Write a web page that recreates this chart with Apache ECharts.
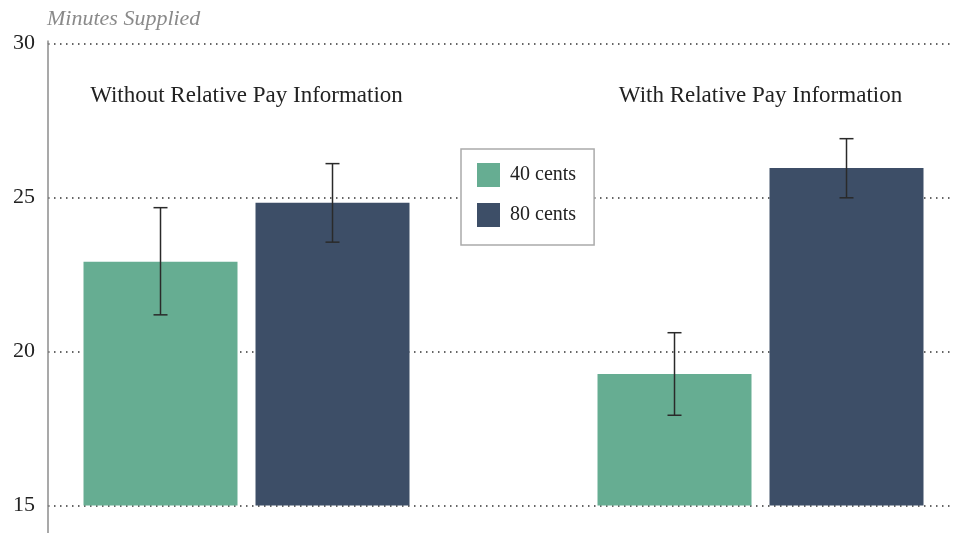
<!DOCTYPE html>
<html><head><meta charset="utf-8">
<script src="https://cdn.jsdelivr.net/npm/echarts@6/dist/echarts.min.js"></script>
<style>html,body{margin:0;padding:0;background:#fff}#c{width:956px;height:533px}</style>
</head><body><div id="c"></div>
<script>
var groups = ['Without Relative Pay Information', 'With Relative Pay Information'];
var seriesNames = ['40 cents', '80 cents'];
var values40 = [22.91, 19.27];
var values80 = [24.83, 25.96];
var err40 = [[21.19, 24.67], [17.93, 20.61]];
var err80 = [[23.55, 26.10], [24.99, 26.91]];
var yTicks = [15, 20, 25, 30];

var FONT = 'Liberation Serif';
var GREEN = '#66ad92', NAVY = '#3d4e67';
var BAR_W = 154, BAR_GAP = 18;
// horizontal placement of the two groups inside the plot (group index -> axis)
var X_MIN = -0.3862, X_MAX = 1.3745;
var chart = echarts.init(document.getElementById('c'));

function pairs(vals) { return vals.map(function (v, i) { return [i, v]; }); }

function errSeries(name, errs, sign) {
  return {
    type: 'custom', name: name + ' err', xAxisIndex: 1, yAxisIndex: 1, z: 5, silent: true,
    data: errs.map(function (e, i) { return [i, e[0], e[1]]; }),
    encode: { x: 0, y: [1, 2] },
    renderItem: function (params, api) {
      var off = sign * (BAR_W + BAR_GAP) / 2;
      var lo = api.coord([api.value(0), api.value(1)]);
      var hi = api.coord([api.value(0), api.value(2)]);
      var x = lo[0] + off, cap = 7;
      var st = { stroke: '#2a2a2a', lineWidth: 1.5 };
      return { type: 'group', children: [
        { type: 'line', shape: { x1: x, y1: lo[1], x2: x, y2: hi[1] }, style: st },
        { type: 'line', shape: { x1: x - cap, y1: lo[1], x2: x + cap, y2: lo[1] }, style: st },
        { type: 'line', shape: { x1: x - cap, y1: hi[1], x2: x + cap, y2: hi[1] }, style: st }
      ]};
    }
  };
}

var option = {
  animation: false,
  textStyle: { fontFamily: FONT },
  grid: [
    { left: 48, right: 3, top: 43.5, bottom: 27.5 },
    { left: 48, right: 3, top: 43.5, bottom: 27.5 },
    { left: 246.5, right: 195.5, top: 43.5, bottom: 27.5 }
  ],
  xAxis: [
    { type: 'value', gridIndex: 0, show: false, min: 0, max: 1 },
    { type: 'value', gridIndex: 1, show: false, min: X_MIN, max: X_MAX },
    { type: 'category', gridIndex: 2, data: groups, position: 'top', boundaryGap: false,
      axisLine: { show: false }, axisTick: { show: false }, splitLine: { show: false },
      axisLabel: { inside: true, margin: 41, fontSize: 23, color: '#222', fontFamily: FONT, interval: 0 } }
  ],
  yAxis: [
    { type: 'value', gridIndex: 0, min: yTicks[0], max: yTicks[yTicks.length - 1], interval: 5,
      name: 'Minutes Supplied', nameLocation: 'end', nameGap: 13,
      nameTextStyle: { align: 'left', fontStyle: 'italic', color: '#8a8a8a', fontSize: 22, fontFamily: FONT, padding: [0, 0, 0, -1] },
      axisLine: { show: true, lineStyle: { color: '#8c8c8c', width: 1.5 } },
      axisTick: { show: false },
      axisLabel: { margin: 13, fontSize: 22, color: '#222', fontFamily: FONT },
      splitLine: { show: true, lineStyle: { color: '#333', width: 1.5, type: [1.5, 4.5] } }
    },
    { type: 'value', gridIndex: 1, min: yTicks[0], max: yTicks[yTicks.length - 1], show: false },
    { type: 'value', gridIndex: 2, min: yTicks[0], max: yTicks[yTicks.length - 1], show: false }
  ],
  legend: {
    orient: 'vertical', left: 461, top: 149,
    padding: [14, 18, 18, 16], itemGap: 16, itemWidth: 23, itemHeight: 24,
    borderColor: '#aaa', borderWidth: 1.5, backgroundColor: '#fff',
    data: seriesNames.map(function (n) { return { name: n, icon: 'rect' }; }),
    textStyle: { fontSize: 20, color: '#222', fontFamily: FONT, padding: [0, 0, 0, 5] }
  },
  series: [
    { type: 'bar', name: seriesNames[0], xAxisIndex: 1, yAxisIndex: 1, data: pairs(values40),
      barWidth: BAR_W, barGap: (BAR_GAP / BAR_W * 100) + '%', itemStyle: { color: GREEN } },
    { type: 'bar', name: seriesNames[1], xAxisIndex: 1, yAxisIndex: 1, data: pairs(values80),
      barWidth: BAR_W, itemStyle: { color: NAVY } },
    errSeries(seriesNames[0], err40, -1),
    errSeries(seriesNames[1], err80, 1)
  ]
};
chart.setOption(option);
var p = chart.convertToPixel({ gridIndex: 0 }, [0, yTicks[0]]);
var pTop = chart.convertToPixel({ gridIndex: 0 }, [0, yTicks[yTicks.length - 1]]);
chart.setOption({ graphic: [
  { type: 'line', silent: true, z: 10, shape: { x1: p[0], y1: p[1], x2: p[0], y2: 533 }, style: { stroke: '#8c8c8c', lineWidth: 1.5 } },
  { type: 'line', silent: true, z: 10, shape: { x1: pTop[0], y1: pTop[1] - 3, x2: pTop[0], y2: pTop[1] }, style: { stroke: '#8c8c8c', lineWidth: 1.5 } }
]});
</script></body></html>
